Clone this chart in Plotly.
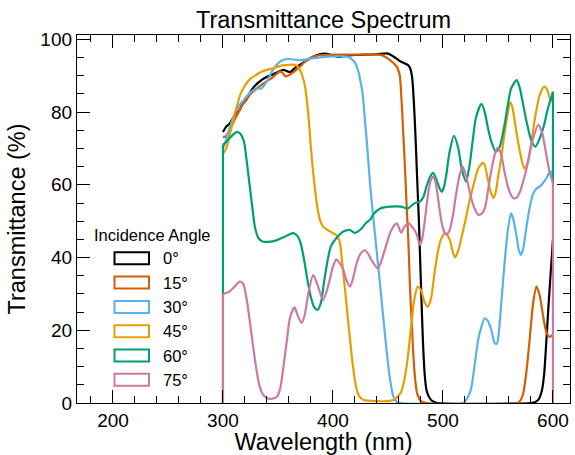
import plotly.graph_objects as go

# Transmittance (%) versus wavelength (nm), one pair of lists per incidence angle
wl_0 = [300, 303, 306, 309, 312, 315, 318, 321, 324, 327, 330, 333, 336, 340, 345, 350, 355, 361, 366, 370,
        375, 380, 385, 390, 395, 400, 405, 410, 415, 420, 430, 440, 450, 455, 460, 465, 468, 470, 472, 473.5,
        475, 476.5, 478, 479, 480.5, 482, 483.5, 485, 488, 491, 495, 580, 584, 587, 590, 592, 594, 596, 598, 600]
tr_0 = [74.5, 76, 76.8, 78.3, 79.5, 80.5, 82.3, 83.3, 85, 86.5, 87.5, 88.3, 89, 89.7, 90.3, 91, 91.6, 91, 92.3, 93,
        94, 94.9, 95.6, 96, 96, 95.5, 95.2, 95.4, 95.6, 95.7, 95.8, 95.9, 96.1, 95.3, 94.2, 93.4, 93, 92.2, 89.5, 83,
        73.5, 62, 51, 42, 28, 15.5, 7.5, 3.6, 1.3, 0.4, 0, 0, 0.3, 1, 3.5, 8, 17, 27, 36, 45]

wl_15 = [300, 303, 306, 310, 315, 320, 325, 330, 335, 340, 345, 350, 353, 357, 361, 365, 370, 375, 380, 385,
         390, 400, 410, 420, 430, 440, 445, 450, 455, 458, 460, 461, 462.4, 464, 465.5, 467, 468.5, 470, 471.5, 473,
         474.5, 476.5, 480, 485, 568, 571, 573, 576, 579, 582, 585, 588, 591, 594, 597, 600]
tr_15 = [73, 73.5, 75, 77.5, 80.5, 83, 85, 86.3, 87.5, 88.5, 89.5, 90.8, 91.1, 89.8, 90.3, 91.2, 92.5, 94, 95, 95.5,
         95.7, 95.8, 95.8, 95.8, 95.8, 95.8, 95.6, 94.7, 93.5, 92.5, 91, 89.5, 83, 73.7, 64.5, 54, 45, 32, 22.8, 13.7,
         7.2, 2.7, 0.5, 0, 0, 1, 2.7, 9, 18, 27.5, 32, 29.5, 24, 19.5, 18.2, 18.8]

wl_30 = [300, 303, 306, 310, 314, 318, 322, 326, 330, 335, 340, 345, 350, 355, 360, 370, 380, 390, 400, 410,
         415, 418, 420, 423, 425, 427, 429, 431, 433, 435, 437, 440, 443, 446, 449, 452, 455, 458, 462, 518,
         521, 524, 526, 529, 532, 535, 538, 541, 544, 547, 549, 551, 553, 556, 559, 562, 564, 567, 569, 571,
         573, 575, 577, 579, 582, 585, 588, 591, 594, 597, 599, 600]
tr_30 = [70, 72.5, 75.6, 79, 81.5, 83, 84.5, 85.7, 86.5, 86.5, 88.5, 91.4, 93.4, 94.4, 94.6, 94.3, 94.7, 95.1, 95.3, 95.3,
         95, 94.3, 93.6, 91.3, 88.5, 85, 78, 71, 63, 56, 50, 41, 32, 22.8, 13.7, 6.3, 1.7, 0.3, 0, 0,
         0.8, 2.5, 4.5, 10.9, 17.3, 21, 23.3, 22.5, 20, 16.5, 16.3, 20, 27.4, 38.4, 47.6, 52.2, 50.5, 45.7, 42, 40.7,
         42.5, 46.5, 50.5, 54, 57.5, 59, 59.5, 60.5, 61.8, 63.5, 63.5, 60.5]

wl_45 = [300, 303, 306, 310, 313, 316, 320, 325, 330, 335, 340, 345, 350, 355, 360, 365, 368, 371, 374, 376,
         378, 380, 382, 384, 386, 388, 391, 395, 400, 403, 406, 409, 412, 415, 418, 421, 424, 428, 440, 452,
         456, 459, 462, 465, 468, 471, 474, 477, 480, 483, 486, 489, 492, 495, 498, 502, 506, 509, 511, 514,
         517, 521, 524, 527, 530, 533, 537, 541, 543, 546, 548, 550, 553, 555, 558, 561, 563, 566, 570, 574,
         577, 580, 584, 588, 592, 595, 598, 600]
tr_45 = [68.5, 70, 73.5, 78.5, 82, 85, 87.3, 89.2, 90.2, 91.1, 91.6, 92, 92.5, 92.9, 93, 93, 92.5, 91, 88, 84,
         78, 70, 63.5, 58, 53.5, 50.5, 48.5, 47.6, 46.7, 46.2, 44.5, 37, 28, 19, 10.5, 4.5, 1.8, 0.8, 0.5, 0.6,
         1, 1.8, 3, 6.5, 12.5, 21, 28.5, 32, 31, 28, 26.5, 28.5, 35, 41, 44.8, 46.8, 45, 41.5, 40, 42,
         45.7, 51, 55.5, 59, 62.5, 65, 66, 61.3, 58.5, 56.3, 58, 62, 67.5, 72, 78, 82.7, 81.5, 76, 69, 64.5,
         66, 71, 79, 84.7, 87, 86, 83, 84]

wl_60 = [300, 300, 303, 306, 310, 313, 316, 319, 321, 323, 325, 327, 329, 332, 336, 340, 347, 352, 356, 360,
         364, 368, 371, 374, 377, 380, 383, 386, 389, 392, 395, 398, 401, 405, 409, 415, 420, 426, 430, 434,
         437, 443, 452, 462, 468, 474, 479, 482, 485, 488, 491, 494, 497, 499, 501, 503, 506, 510, 514, 517,
         521, 524, 527, 530, 535, 538, 541, 544, 548, 551, 553, 556, 559, 562, 567, 570, 572, 576, 580, 584,
         588, 592, 595, 600, 600]
tr_60 = [0, 71, 71.8, 72.8, 74, 74.6, 74, 72, 68, 63, 58, 53, 48.5, 45.5, 44.4, 44.3, 44.6, 45.2, 45.7, 46.3,
         46.7, 45.8, 43.5, 39, 33.5, 29, 26.3, 25.6, 27.5, 33.5, 39, 43, 44.5, 46, 47.1, 47.6, 46.8, 48, 49.5, 50.5,
         52, 53.5, 54, 54, 53.5, 54.9, 55.4, 56.5, 59.5, 62, 63.3, 61.5, 59, 58.1, 59.5, 62.7, 69, 73.5, 70, 64.5,
         60.9, 65, 72, 78.5, 82.3, 80, 75.5, 71.9, 69.1, 70, 71.9, 76.5, 82, 86.5, 88.8, 86.5, 83.5, 77.4, 72.5, 70.5,
         72.8, 76.5, 80.5, 85.6, 60]

wl_75 = [300, 300, 305, 310, 315, 318, 321, 324, 327, 330, 333, 336, 340, 345, 349, 352, 355, 358, 361, 365,
         368, 371.5, 374.5, 377.5, 382, 386, 391, 395.5, 400, 403, 406, 409, 412, 415.5, 418, 421.5, 425, 429, 432, 435,
         441, 445, 449, 453, 458, 462, 465, 469, 473, 476, 479, 481, 483, 485, 487, 489, 491, 493, 495, 497,
         500, 503, 506, 509, 512, 515, 518, 521, 524, 527.5, 532, 535, 538, 541, 544, 547, 550, 553, 556, 560,
         564, 567, 570, 573, 576, 579, 582, 586.6, 590, 594, 597, 600, 600]
tr_75 = [0, 30, 30.5, 31.8, 33.4, 33, 29.5, 23.5, 16.5, 10, 5, 2.5, 1.3, 1.2, 1.7, 4, 10, 17, 23.5, 26.3,
         24, 22, 24.5, 30, 35.2, 32.5, 28.3, 32, 37.5, 39.5, 38.5, 37, 34, 32, 34, 38.4, 41, 42, 41, 39.3,
         37, 40, 44, 47.5, 49.4, 46.8, 48.5, 49.4, 48, 46.5, 43.5, 45, 49, 54, 58.5, 61.3, 62.2, 61, 57.5, 53,
         48, 46.3, 47.5, 51.5, 57.5, 62.5, 65, 62.5, 58.5, 54.5, 51.8, 52, 53.5, 58.5, 64, 68.2, 70.3, 68.2, 63.5, 58.5,
         56.3, 56.5, 58.1, 61, 64.5, 69, 72.8, 76.5, 74.5, 68.2, 63.5, 60.5, 0]

angles = ["0°", "15°", "30°", "45°", "60°", "75°"]
colors = ["#000000", "#D55E00", "#56B4E9", "#E69F00", "#009E73", "#CC79A7"]
wavelengths = [wl_0, wl_15, wl_30, wl_45, wl_60, wl_75]
transmittances = [tr_0, tr_15, tr_30, tr_45, tr_60, tr_75]

FONT = "Liberation Sans, Arial, Helvetica, sans-serif"
W, H = 575, 455
ML, MR, MT, MB = 77, 5, 35, 52
PW, PH = W - ML - MR, H - MT - MB
LINE_W = 2.2


def paper_x(px):
    return (px - ML) / PW


def paper_y(py):
    return (H - MB - py) / PH


fig = go.Figure()
for name, color, x, y in zip(angles, colors, wavelengths, transmittances):
    # vertical jumps at the ends of the scan are drawn straight, the rest smoothed
    lo, hi = 0, len(x)
    if x[0] == x[1]:
        fig.add_trace(go.Scatter(x=x[:2], y=y[:2], mode="lines", showlegend=False, hoverinfo="skip",
                                 line=dict(color=color, width=LINE_W)))
        lo = 1
    if x[-1] == x[-2]:
        fig.add_trace(go.Scatter(x=x[-2:], y=y[-2:], mode="lines", showlegend=False, hoverinfo="skip",
                                 line=dict(color=color, width=LINE_W)))
        hi = len(x) - 1
    fig.add_trace(go.Scatter(x=x[lo:hi], y=y[lo:hi], mode="lines", name=name, showlegend=False,
                             line=dict(color=color, width=LINE_W, shape="spline", smoothing=0.7)))

# boxed legend drawn inside the empty left part of the axes
fig.add_annotation(text="Incidence Angle", xref="paper", yref="paper",
                   x=paper_x(92), y=paper_y(235), xanchor="left", yanchor="middle",
                   showarrow=False, font=dict(family=FONT, size=16.5, color="black"))
for i, (name, color) in enumerate(zip(angles, colors)):
    cy = 258.3 + 24.3 * i
    fig.add_shape(type="rect", xref="paper", yref="paper",
                  x0=paper_x(114.5), x1=paper_x(149), y0=paper_y(cy + 6), y1=paper_y(cy - 6),
                  line=dict(color=color, width=2), fillcolor="white")
    fig.add_annotation(text=name, xref="paper", yref="paper",
                       x=paper_x(161), y=paper_y(cy), xanchor="left", yanchor="middle",
                       showarrow=False, font=dict(family=FONT, size=16.5, color="black"))

axis_common = dict(
    showline=True, linecolor="black", linewidth=1.3, mirror="allticks",
    ticks="inside", ticklen=13, tickwidth=1.3, tickcolor="black",
    showgrid=False, zeroline=False,
    tickfont=dict(family=FONT, size=19, color="black"),
)

fig.update_layout(
    width=W, height=H,
    margin=dict(l=ML, r=MR, t=MT, b=MB, autoexpand=False),
    paper_bgcolor="white", plot_bgcolor="white",
    font=dict(family=FONT, color="black"),
    title=dict(text="Transmittance Spectrum", x=0.5, xref="paper", xanchor="center",
               y=1 - 20 / H, yref="container", yanchor="middle",
               font=dict(family=FONT, size=23.5, color="black")),
    xaxis=dict(range=[167.3, 615.5], tick0=0, dtick=100,
               minor=dict(dtick=20, ticks="inside", ticklen=7, tickwidth=1.3, tickcolor="black"),
               title=dict(text="Wavelength (nm)", standoff=4, font=dict(family=FONT, size=23.5)),
               **axis_common),
    yaxis=dict(range=[0, 101.2], tick0=0, dtick=20,
               minor=dict(dtick=5, ticks="inside", ticklen=7, tickwidth=1.3, tickcolor="black"),
               title=dict(text="Transmittance (%)", standoff=8, font=dict(family=FONT, size=23.5)),
               **axis_common),
)

fig.write_html("out.html")
